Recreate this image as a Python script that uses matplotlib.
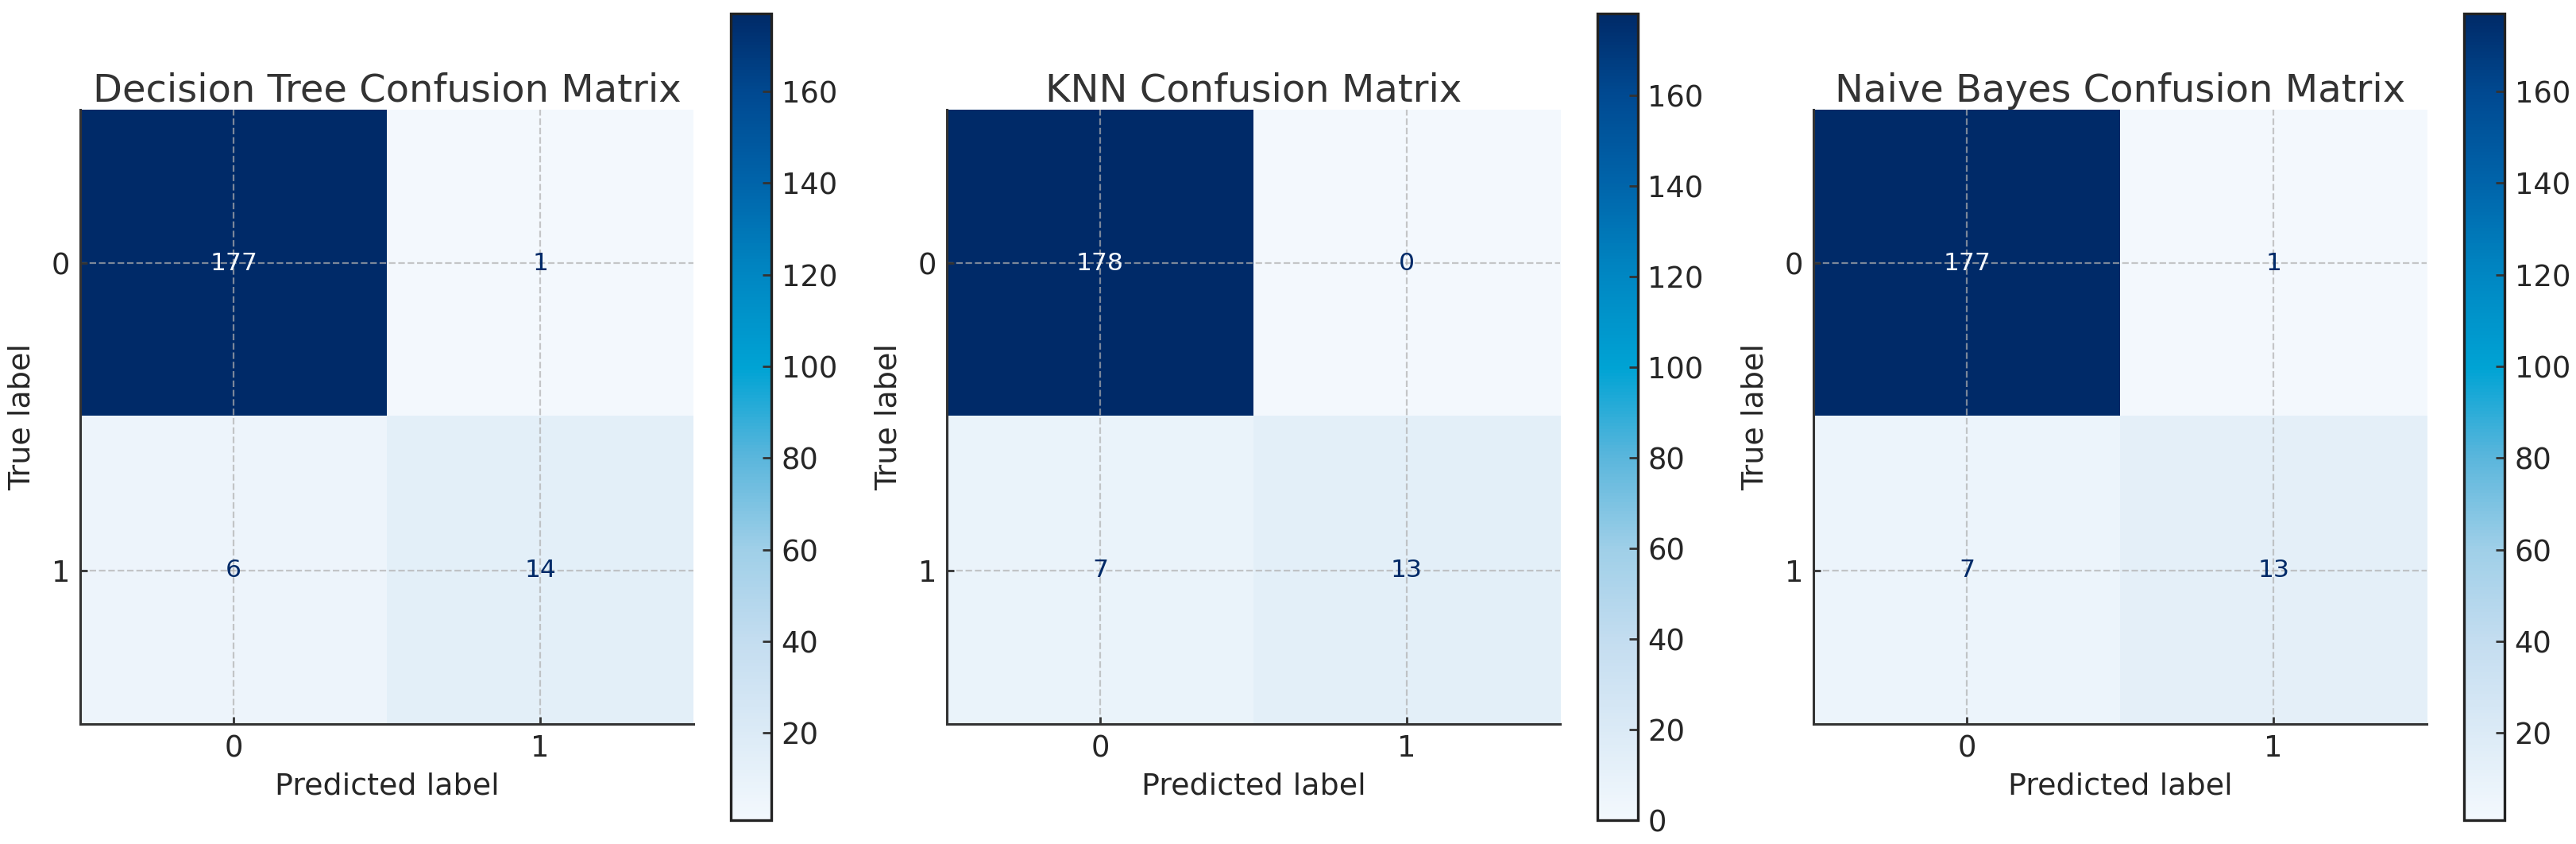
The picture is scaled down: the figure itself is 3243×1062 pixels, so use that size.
import numpy as np
import matplotlib
matplotlib.use("Agg")
from matplotlib import pyplot as plt
from matplotlib.ticker import MultipleLocator
from matplotlib.colors import LinearSegmentedColormap

# 三个模型的混淆矩阵 (行: 真实标签, 列: 预测标签)
models = ["Decision Tree", "KNN", "Naive Bayes"]
class_labels = ["0", "1"]
cm_tree = [[177, 1], [6, 14]]
cm_knn = [[178, 0], [7, 13]]
cm_bayes = [[177, 1], [7, 13]]
matrices = [cm_tree, cm_knn, cm_bayes]

W, H = 3243, 1062
DPI = 200
TXT = "#262626"

# 原图的Blues颜色更饱和一点, 按色条取色做一个近似
blues = LinearSegmentedColormap.from_list("blues_sat", [
    (0.0, "#f3f8fd"), (0.11, "#dbeaf6"), (0.22, "#c4ddf0"), (0.335, "#9fcfe8"),
    (0.45, "#5ab6dc"), (0.56, "#00a3d4"), (0.68, "#0086c2"), (0.79, "#0064aa"),
    (0.90, "#004a92"), (1.0, "#002a68"),
])

fig = plt.figure(figsize=(W / DPI, H / DPI), dpi=DPI)

for k, (name, cm) in enumerate(zip(models, matrices)):
    cm = np.array(cm)
    # 位置按像素量出来再换成比例
    ax = fig.add_axes([(101 + 1091 * k) / W, 151 / H, 772 / W, 773 / H])
    cax = fig.add_axes([(920 + 1091 * k) / W, 30 / H, 51 / W, 1015 / H])

    im = ax.imshow(cm, cmap=blues, interpolation="nearest", aspect="auto")
    thresh = (cm.max() + cm.min()) / 2.0
    for i in range(cm.shape[0]):
        for j in range(cm.shape[1]):
            color = blues(0.0) if cm[i, j] > thresh else blues(1.0)
            ax.text(j, i, str(cm[i, j]), ha="center", va="center", color=color, fontsize=11.3)

    ax.set_xticks(range(len(class_labels)))
    ax.set_yticks(range(len(class_labels)))
    ax.set_xticklabels(class_labels)
    ax.set_yticklabels(class_labels)
    ax.set_xlim(-0.5, 1.5)
    ax.set_ylim(1.5, -0.5)
    ax.tick_params(direction="in", length=3.3, width=1.0, color="#333333",
                   labelsize=13.3, labelcolor=TXT, pad=4.5)
    ax.grid(True, linestyle="--", color="#b0b0b0", alpha=0.7, linewidth=0.8)
    for s in ["top", "right"]:
        ax.spines[s].set_visible(False)
    for s in ["left", "bottom"]:
        ax.spines[s].set_color("#333333")
        ax.spines[s].set_linewidth(1.1)

    ax.set_xlabel("Predicted label", fontsize=13.7, color=TXT, labelpad=4)
    ax.set_ylabel("True label", fontsize=13.7, color=TXT, labelpad=7)
    ax.set_title(name + " Confusion Matrix", fontsize=17.3, color="#333333", pad=2.5)

    cb = fig.colorbar(im, cax=cax)
    cb.locator = MultipleLocator(20)
    cb.update_ticks()
    cb.outline.set_linewidth(1.2)
    cb.outline.set_edgecolor("#222222")
    cax.tick_params(direction="in", length=4, width=1.0, color="#333333",
                    labelsize=13.3, labelcolor=TXT, pad=4.5)

fig.savefig("out.png", dpi=DPI)
